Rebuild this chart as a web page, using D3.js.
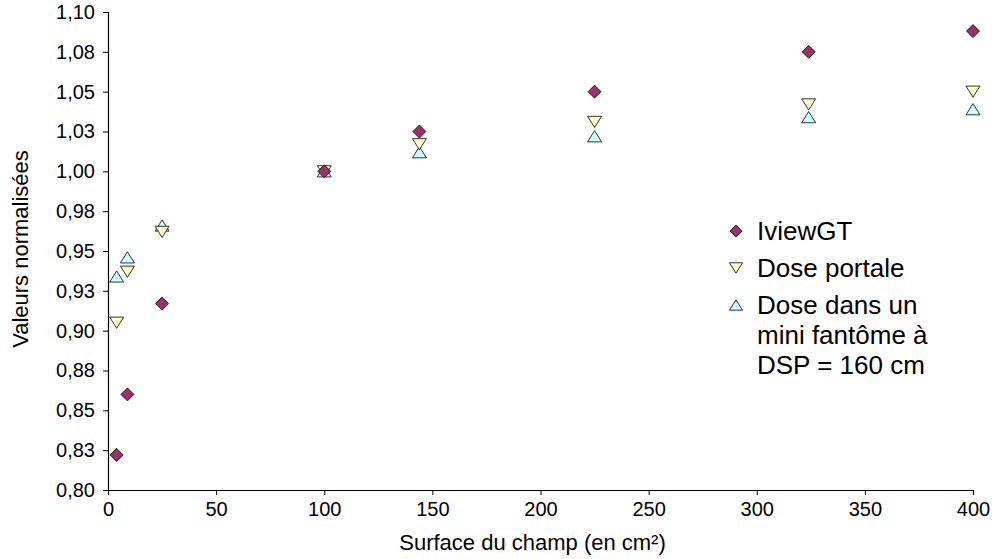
<!DOCTYPE html>
<html>
<head>
<meta charset="utf-8">
<script src="https://cdn.jsdelivr.net/npm/d3@7"></script>
<style>
  body { margin: 0; background: #fff; }
  text { font-family: "Liberation Sans", Arial, sans-serif; fill: #000; }
</style>
</head>
<body>
<script>
// Field sizes (cm²)
const surfaces = [4, 9, 25, 100, 144, 225, 324, 400];
const iviewGT = [0.822, 0.860, 0.917, 1.000, 1.025, 1.050, 1.075, 1.088];
const dosePortale = [0.905, 0.937, 0.962, 1.000, 1.017, 1.031, 1.042, 1.050];
const doseFantome = [0.934, 0.946, 0.966, 1.000, 1.012, 1.022, 1.034, 1.039];
const xTicks = [0, 50, 100, 150, 200, 250, 300, 350, 400];
const yTicks = [0.80, 0.825, 0.85, 0.875, 0.90, 0.925, 0.95, 0.975, 1.00, 1.025, 1.05, 1.075, 1.10];

const series = [
  {name: ['IviewGT'], values: iviewGT, shape: 'diamond', color: '#993366'},
  {name: ['Dose portale'], values: dosePortale, shape: 'down', color: '#ffffcc'},
  {name: ['Dose dans un', 'mini fantôme à', 'DSP = 160 cm'], values: doseFantome, shape: 'up', color: '#ccffff'}
];

const W = 997, H = 559;
const margin = {top: 12, right: 24, bottom: 69, left: 108};
const width = W - margin.left - margin.right;
const height = H - margin.top - margin.bottom;

const svg = d3.select('body').append('svg')
  .attr('width', W)
  .attr('height', H);

const g = svg.append('g')
  .attr('transform', `translate(${margin.left},${margin.top})`);

const x = d3.scaleLinear().domain([0, 400]).range([0, width]);
const y = d3.scaleLinear().domain([0.80, 1.10]).range([height, 0]);

const fmt = (d) => d3.format('.2f')(d + 1e-9).replace('.', ',');

// axes
const gx = g.append('g')
  .attr('transform', `translate(0,${height})`)
  .call(d3.axisBottom(x).tickValues(xTicks).tickSize(5).tickPadding(7));
const gy = g.append('g')
  .call(d3.axisLeft(y).tickValues(yTicks).tickFormat(fmt).tickSize(5).tickPadding(8));

[gx, gy].forEach((a) => {
  a.select('.domain').attr('stroke', '#000').attr('stroke-width', 1.2);
  a.selectAll('.tick line').attr('stroke', '#000');
  a.selectAll('.tick text').attr('font-size', 20).attr('font-family', '"Liberation Sans", Arial, sans-serif');
});

// axis titles
svg.append('text')
  .attr('x', margin.left + width / 2 - 8)
  .attr('y', 550)
  .attr('text-anchor', 'middle')
  .attr('font-size', 22)
  .text('Surface du champ (en cm²)');

svg.append('text')
  .attr('transform', `translate(28,${margin.top + height / 2 - 2}) rotate(-90)`)
  .attr('text-anchor', 'middle')
  .attr('font-size', 22)
  .text('Valeurs normalisées');

// symbols
function symbolPath(shape, s) {
  if (shape === 'diamond') return `M0,${-s}L${s},0L0,${s}L${-s},0Z`;
  if (shape === 'down') return `M${-s},${-s * 0.8}L${s},${-s * 0.8}L0,${s * 0.8}Z`;
  return `M${-s},${s * 0.8}L${s},${s * 0.8}L0,${-s * 0.8}Z`;
}

// draw order: triangles first, diamonds on top
[series[2], series[1], series[0]].forEach((s) => {
  g.append('g').selectAll('path')
    .data(surfaces.map((d, i) => ({x: d, y: s.values[i]})))
    .join('path')
    .attr('transform', (d) => `translate(${x(d.x)},${y(d.y)})`)
    .attr('d', symbolPath(s.shape, s.shape === 'diamond' ? 6.5 : 7))
    .attr('fill', s.color)
    .attr('stroke', '#000')
    .attr('stroke-width', 0.8);
});

// legend
const legend = svg.append('g').attr('transform', 'translate(736,231)');
let ly = 0;
series.forEach((s) => {
  legend.append('path')
    .attr('transform', `translate(0,${ly})`)
    .attr('d', symbolPath(s.shape, s.shape === 'diamond' ? 6 : 6.5))
    .attr('fill', s.color)
    .attr('stroke', '#000')
    .attr('stroke-width', 0.8);
  s.name.forEach((line, j) => {
    legend.append('text')
      .attr('x', 21)
      .attr('y', ly + j * 30)
      .attr('dy', '0.36em')
      .attr('font-size', 26)
      .text(line);
  });
  ly += 37;
});
</script>
</body>
</html>
